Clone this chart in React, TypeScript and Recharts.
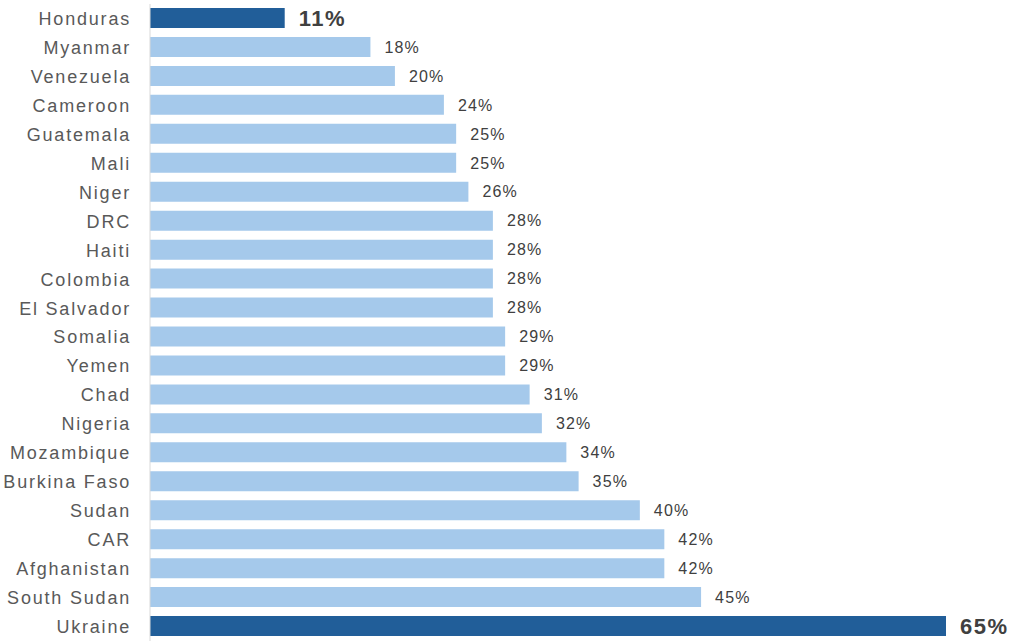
import React from 'react';
import { BarChart, Bar, XAxis, YAxis, Cell, LabelList } from 'recharts';

// Share of people in need reached, by country
const countries = [
  'Honduras', 'Myanmar', 'Venezuela', 'Cameroon', 'Guatemala', 'Mali', 'Niger',
  'DRC', 'Haiti', 'Colombia', 'El Salvador', 'Somalia', 'Yemen', 'Chad',
  'Nigeria', 'Mozambique', 'Burkina Faso', 'Sudan', 'CAR', 'Afghanistan',
  'South Sudan', 'Ukraine',
];
const shares = [11, 18, 20, 24, 25, 25, 26, 28, 28, 28, 28, 29, 29, 31, 32, 34, 35, 40, 42, 42, 45, 65];
const highlighted = ['Honduras', 'Ukraine'];

const DARK = '#215E99';
const LIGHT = '#A5C9EB';
const FONT = '"Liberation Sans", Arial, sans-serif';

const data = countries.map((country, i) => ({ country, share: shares[i] }));

const CountryTick = (props: any) => {
  const { x, y, payload } = props;
  return (
    <text
      x={x}
      y={y}
      dy="0.36em"
      textAnchor="end"
      fill="#595959"
      fontSize={18}
      fontFamily={FONT}
      style={{ letterSpacing: '1.8px' }}
    >
      {payload.value}
    </text>
  );
};

const ValueLabel = (props: any) => {
  const { x, y, width, height, value, index } = props;
  const bold = highlighted.includes(countries[index]);
  return (
    <text
      x={Number(x) + Number(width) + 14}
      y={Number(y) + Number(height) / 2}
      dy="0.36em"
      textAnchor="start"
      fill="#404040"
      fontSize={bold ? 22 : 16}
      fontWeight={bold ? 700 : 400}
      fontFamily={FONT}
      style={{ letterSpacing: bold ? '1.5px' : '1.2px' }}
    >
      {`${value}%`}
    </text>
  );
};

export default function App() {
  return (
    <div style={{ position: 'absolute', left: 0, top: 0, width: 1024, height: 644, background: '#fff' }}>
      <BarChart
        width={1024}
        height={644}
        data={data}
        layout="vertical"
        margin={{ top: 4, right: 78, bottom: 3, left: 0 }}
      >
        <XAxis type="number" domain={[0, 65]} hide />
        <YAxis
          type="category"
          dataKey="country"
          width={150}
          axisLine={{ stroke: '#D9D9D9', strokeWidth: 1 }}
          tickLine={false}
          tickSize={0}
          tickMargin={19}
          interval={0}
          tick={<CountryTick />}
        />
        <Bar dataKey="share" barSize={20} isAnimationActive={false}>
          {data.map((d) => (
            <Cell key={d.country} fill={highlighted.includes(d.country) ? DARK : LIGHT} />
          ))}
          <LabelList dataKey="share" content={<ValueLabel />} />
        </Bar>
      </BarChart>
    </div>
  );
}
